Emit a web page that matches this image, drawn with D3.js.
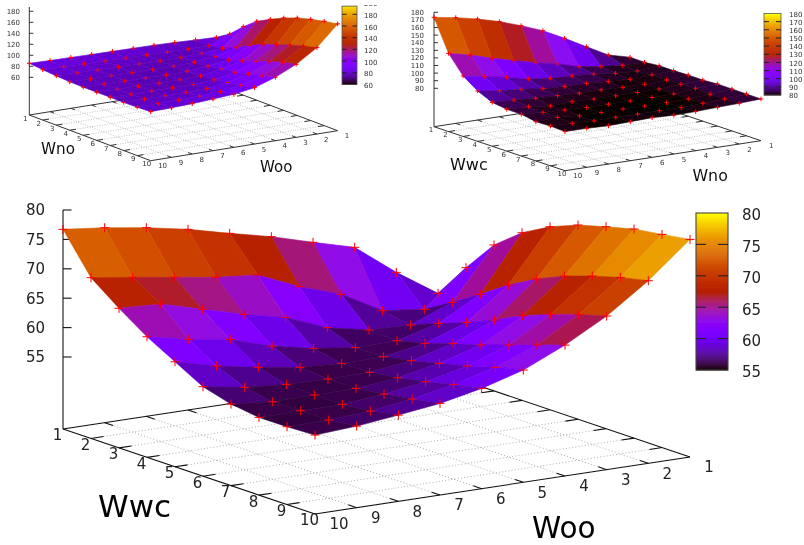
<!DOCTYPE html>
<html><head><meta charset="utf-8">
<script src="https://cdn.jsdelivr.net/npm/d3@7"></script>
<style>html,body{margin:0;padding:0;background:#fff}svg{display:block}text{font-family:"DejaVu Sans",sans-serif}</style>
</head><body><svg id="c" width="804" height="545"></svg>
<script>
// Data: rows run second axis 10 -> 1, columns run first axis 1 -> 10
const axisValues = [1,2,3,4,5,6,7,8,9,10];

const topLeftZ = [
 [85.4,83.0,81.0,79.5,79.0,79.0,79.0,79.0,79.5,80.5],
 [84.5,82.5,80.5,79.0,78.5,78.5,78.5,79.0,80.0,81.5],
 [84.0,81.5,79.5,78.5,78.0,78.0,78.5,79.0,80.5,83.0],
 [83.5,80.5,79.0,78.0,77.5,77.5,78.0,79.0,81.5,85.5],
 [83.0,80.0,78.5,77.5,77.0,77.5,78.0,80.0,83.5,88.0],
 [82.5,79.5,78.0,77.5,77.5,78.5,80.5,85.0,89.0,94.0],
 [82.0,79.0,78.0,78.5,81.0,85.0,88.0,94.4,99.9,106.8],
 [81.0,78.3,79.6,82.9,86.0,93.5,101.5,110.7,118.8,124.3],
 [79.4,78.3,82.7,93.1,106.1,117.7,126.3,135.0,142.4,148.6],
 [78.2,93.5,116.0,135.0,147.9,159.5,168.8,175.6,181.2,185.6]
];
const topRightZ = [
 [173.4,132.4,109.1,95.8,87.2,84.5,84.4,81.1,81.8,80.9],
 [168.6,125.9,103.8,91.8,85.9,83.6,82.6,82.4,81.0,80.8],
 [162.4,117.1,98.5,89.2,83.8,80.2,81.3,80.0,79.9,79.9],
 [154.6,109.7,92.0,85.7,82.9,81.4,80.1,79.9,80.1,80.8],
 [144.9,102.6,88.4,84.0,81.6,80.5,80.1,80.3,80.0,81.7],
 [133.9,96.5,87.2,83.9,81.6,80.3,80.0,79.8,80.1,80.6],
 [119.5,88.6,85.4,81.7,80.7,80.3,80.2,79.9,80.0,81.0],
 [104.1,84.3,81.9,80.4,80.3,80.6,80.4,80.3,81.0,82.2],
 [88.8,81.2,80.6,81.8,81.6,82.3,83.5,82.1,82.3,83.0],
 [81.4,81.2,83.2,83.1,83.8,83.6,84.9,84.7,84.5,84.4]
];
const bigZ = [
 [76.71,70.10,66.49,63.27,60.62,57.98,56.64,55.97,55.99,56.18],
 [75.91,69.08,66.14,61.74,58.81,56.79,55.95,56.03,56.04,56.63],
 [74.84,68.00,64.17,60.66,57.51,56.22,56.02,56.03,56.50,57.42],
 [73.48,66.92,62.23,58.45,56.43,56.05,56.07,56.71,57.47,58.33],
 [71.72,66.24,60.64,56.98,56.03,56.11,56.80,57.73,58.88,59.81],
 [70.08,63.18,57.82,56.02,56.10,57.02,58.17,59.32,60.70,61.85],
 [68.04,60.80,56.34,56.13,57.28,58.88,60.21,61.81,63.42,65.02],
 [66.11,56.95,56.11,58.00,59.77,61.78,64.12,65.95,67.55,68.88],
 [60.78,56.10,58.89,61.86,65.04,67.67,69.78,71.39,72.77,73.81],
 [56.14,62.10,67.57,71.26,73.89,75.78,77.10,78.31,79.01,79.76]
];
const topLeftZTicks = [60,80,100,120,140,160,180];
const topLeftBarTicks = [60,80,100,120,140,160,180,200];
const topRightZTicks = [80,90,100,110,120,130,140,150,160,170,180];
const bigZTicks = [55,60,65,70,75,80];

const svg = d3.select("#c");
const defs = svg.append("defs");
[["blurS",0.7],["blurB",0.28]].forEach(([id,s])=>{
  defs.append("filter").attr("id",id).attr("x","-5%").attr("y","-5%").attr("width","110%").attr("height","110%")
    .append("feGaussianBlur").attr("stdDeviation",s);
});
defs.append("clipPath").attr("id","topCut").append("rect").attr("x",0).attr("y",5).attr("width",804).attr("height",540);

function palette(t){
  t = Math.max(0,Math.min(1,t));
  return d3.rgb(255*Math.sqrt(t),255*t*t*t,255*Math.max(0,Math.sin(2*Math.PI*t))).formatRgb();
}

function panel(c){
  const g = svg.append("g").attr("filter",`url(#${c.filter})`);
  const root = c.clip ? g.append("g").attr("clip-path","url(#topCut)") : g;
  const ax = d3.scaleLinear([1,10],[0,c.aVec[0]]), ay = d3.scaleLinear([1,10],[0,c.aVec[1]]);
  const bx = d3.scaleLinear([10,1],[0,c.bVec[0]]), by = d3.scaleLinear([10,1],[0,c.bVec[1]]);
  const zy = d3.scaleLinear(c.zDomain,c.zRange);
  const base = (a,b)=>[c.ox+ax(a)+bx(b), c.oy+ay(a)+by(b)];
  const surf = (a,b,z)=>[c.ox+ax(a)+bx(b), zy(z)+ay(a)+by(b)];
  const line = (p,q,stroke,w,dash)=>{
    const l = root.append("line").attr("x1",p[0]).attr("y1",p[1]).attr("x2",q[0]).attr("y2",q[1])
      .attr("stroke",stroke).attr("stroke-width",w);
    if(dash) l.attr("stroke-dasharray",dash);
  };
  // floor grid
  axisValues.slice(1,9).forEach(v=>{
    line(base(v,10),base(v,1),c.gridColor,c.gridW,c.gridDash);
    line(base(1,v),base(10,v),c.gridColor,c.gridW,c.gridDash);
  });
  // floor border
  [[base(1,10),base(10,10)],[base(10,10),base(10,1)],[base(10,1),base(1,1)],[base(1,1),base(1,10)]]
    .forEach(([p,q])=>line(p,q,c.axisColor,c.axisW));
  // floor ticks
  const tk = c.tickFrac, s1 = c.aVec.map(d=>d/9), s2 = c.bVec.map(d=>d/9);
  axisValues.slice(1,9).forEach(v=>{
    let p = base(v,10); line(p,[p[0]+s2[0]*tk,p[1]+s2[1]*tk],c.axisColor,c.axisW);
    p = base(v,1);      line(p,[p[0]-s2[0]*tk,p[1]-s2[1]*tk],c.axisColor,c.axisW);
    p = base(1,v);      line(p,[p[0]+s1[0]*tk,p[1]+s1[1]*tk],c.axisColor,c.axisW);
    p = base(10,v);     line(p,[p[0]-s1[0]*tk,p[1]-s1[1]*tk],c.axisColor,c.axisW);
  });
  // z axis
  line([c.ox,c.oy],[c.ox,c.zTop],c.axisColor,c.axisW);
  c.zTicks.forEach(t=>{
    const y = zy(t);
    line([c.ox,y],[c.ox+c.zTickLen,y],c.axisColor,c.axisW);
    root.append("text").attr("x",c.zLabelX).attr("y",y).attr("dy","0.36em").attr("text-anchor","end")
      .attr("font-size",c.tickFont).attr("fill",c.textColor).text(t);
  });
  // surface quads, back to front
  const quads = [];
  d3.range(9).forEach(j=>d3.range(9).forEach(i=>quads.push({i,j})));
  quads.sort((p,q)=>(p.i-p.j)-(q.i-q.j));
  const zAt = (i,j)=>c.z[j][i];
  const cb = d3.scaleLinear(c.cb,[0,1]);
  quads.forEach(({i,j})=>{
    const cs = [[i,j],[i+1,j],[i+1,j+1],[i,j+1]];
    const pts = cs.map(([a,b])=>surf(axisValues[a],axisValues[9-b],zAt(a,b)));
    const col = palette(cb(d3.mean(cs,([a,b])=>zAt(a,b))));
    root.append("polygon").attr("points",pts.join(" ")).attr("fill",col).attr("stroke",col).attr("stroke-width",0.6);
  });
  // markers
  c.z.forEach((row,j)=>row.forEach((z,i)=>{
    const [x,y] = surf(axisValues[i],axisValues[9-j],z), r = c.markR;
    line([x-r,y],[x+r,y],"#ff0000",c.markW);
    line([x,y-r],[x,y+r],"#ff0000",c.markW);
  }));
  // floor labels
  axisValues.forEach(v=>{
    const p = base(v,10);
    root.append("text").attr("x",p[0]+c.aLab[0]).attr("y",p[1]+c.aLab[1]).attr("dy","0.36em").attr("text-anchor","middle")
      .attr("font-size",c.tickFont).attr("fill",c.textColor).text(v);
    const q = base(10,v), extra = v===10 ? c.tenShift : 0;
    root.append("text").attr("x",q[0]+c.bLab[0]+extra).attr("y",q[1]+c.bLab[1]).attr("dy","0.36em").attr("text-anchor","middle")
      .attr("font-size",c.tickFont).attr("fill",c.textColor).text(v);
  });
  // titles
  c.titles.forEach(t=>root.append("text").attr("x",t.x).attr("y",t.y).attr("font-size",t.size).attr("fill",c.titleColor).text(t.text));
  // colour bar
  const bar = d3.scaleLinear(c.cb,c.barY);
  const n = 160, top = c.barTopZ, bot = c.cb[0];
  d3.range(n).forEach(k=>{
    const v0 = bot+(top-bot)*k/n, v1 = bot+(top-bot)*(k+1)/n;
    root.append("rect").attr("x",c.barX[0]).attr("width",c.barX[1]-c.barX[0])
      .attr("y",bar(v1)).attr("height",bar(v0)-bar(v1)+0.5).attr("fill",palette(cb((v0+v1)/2)));
  });
  root.append("rect").attr("x",c.barX[0]).attr("y",bar(top)).attr("width",c.barX[1]-c.barX[0]).attr("height",bar(bot)-bar(top))
    .attr("fill","none").attr("stroke",c.barStroke).attr("stroke-width",c.barW);
  c.barTicks.forEach(t=>{
    const y = bar(t);
    if(t>c.cb[0] && t<top){
      line([c.barX[0],y],[c.barX[0]+c.barTick,y],"#222",c.axisW);
      line([c.barX[1]-c.barTick,y],[c.barX[1],y],"#222",c.axisW);
    }
    root.append("text").attr("x",c.barLabelX).attr("y",y+c.barLabDy).attr("dy","0.36em")
      .attr("font-size",c.barFont).attr("fill",c.textColor).text(t);
  });
}

panel({filter:"blurS",clip:true,z:topLeftZ,ox:29.3,oy:115,aVec:[121.4,45.7],bVec:[187,-30],
  zDomain:[60,200],zRange:[77.3,0.3],zTop:7,zTicks:topLeftZTicks,zTickLen:4,zLabelX:20,cb:[60,200],
  gridColor:"#aaa",gridW:0.7,gridDash:"1,1.5",axisColor:"#333",axisW:1,tickFrac:0.3,markR:2.3,markW:1,
  tickFont:7,textColor:"#333",titleColor:"#111",aLab:[-4,3],bLab:[9.4,5],tenShift:2.5,
  titles:[{text:"Wno",x:41,y:154,size:15.2},{text:"Woo",x:260,y:172,size:15}],
  barX:[342,357],barY:[84.5,2.6],barTopZ:194,barTicks:topLeftBarTicks,barTick:4.5,barStroke:"#555",barW:0.8,barFont:7,barLabelX:364,barLabDy:1});

panel({filter:"blurS",clip:false,z:topRightZ,ox:434,oy:126.7,aVec:[131,44],bVec:[196,-30],
  zDomain:[80,180],zRange:[88.3,12.3],zTop:12.3,zTicks:topRightZTicks,zTickLen:4,zLabelX:424,cb:[80,180],
  gridColor:"#aaa",gridW:0.7,gridDash:"1,1.5",axisColor:"#333",axisW:1,tickFrac:0.3,markR:2.3,markW:1,
  tickFont:7,textColor:"#333",titleColor:"#111",aLab:[-3,3],bLab:[10.2,5],tenShift:2.5,
  titles:[{text:"Wwc",x:450,y:170,size:16},{text:"Wno",x:692.5,y:181,size:15.8}],
  barX:[764,781],barY:[95,13.5],barTopZ:180,barTicks:topRightZTicks,barTick:5,barStroke:"#555",barW:0.8,barFont:7,barLabelX:789,barLabDy:0.7});

panel({filter:"blurB",clip:false,z:bigZ,ox:63,oy:429,aVec:[252,85],bVec:[375,-57],
  zDomain:[55,80],zRange:[357,210],zTop:210,zTicks:bigZTicks,zTickLen:8.5,zLabelX:45,cb:[55,80],
  gridColor:"#999",gridW:0.8,gridDash:"1,2.2",axisColor:"#111",axisW:1.1,tickFrac:0.3,markR:4.5,markW:1,
  tickFont:15,textColor:"#222",titleColor:"#000",aLab:[-5.5,6],bLab:[19,10],tenShift:5,
  titles:[{text:"Wwc",x:98,y:517,size:31},{text:"Woo",x:532,y:538,size:29.5}],
  barX:[696,728],barY:[370,213],barTopZ:80,barTicks:bigZTicks,barTick:10,barStroke:"#444",barW:1.1,barFont:15,barLabelX:742,barLabDy:2});
</script></body></html>
